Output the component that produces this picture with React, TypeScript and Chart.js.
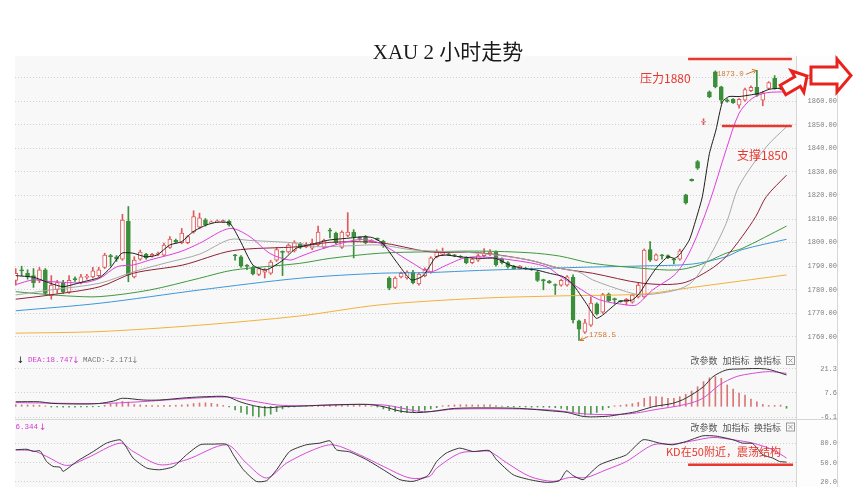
import React, { useEffect, useRef } from "react";
import { Chart, registerables } from "chart.js";
Chart.register(...registerables);

// ---------- data ----------
const opens = [1784,1788.3,1787,1786,1784,1788.5,1777.5,1780,1783,1779,1784.8,1783,1785.2,1785.5,1786,1789.5,1794.5,1794,1793,1809,1785.5,1793,1795,1794.3,1795,1794.7,1798,1801,1800,1800,1804.5,1806.5,1809.7,1808.3,1808.8,1808.8,1809,1794.8,1794,1790.5,1789.5,1786.5,1787.5,1787,1792.6,1796.3,1796,1796.5,1799.5,1798.2,1797.6,1799,1798,1805.3,1804,1798,1803,1804.5,1802.2,1802.5,1800.5,1801.8,1800.5,1785,1781,1785.5,1785,1787.5,1782.5,1786,1787.5,1794,1795,1795.2,1794.8,1794.2,1793.5,1791.5,1792.5,1794.5,1795,1796,1793,1791.5,1790,1789,1789.2,1788.9,1787.5,1784.3,1783.7,1782.2,1782,1782,1785.3,1766.8,1762,1765,1774,1770.5,1778.2,1776.3,1775.3,1775,1774.8,1777,1777,1797,1792.6,1794.8,1794.5,1793,1793,1820.2,1826.8,1834.3,1851,1863.9,1872.4,1866,1860.5,1860.7,1858.3,1860.4,1864.4,1865.8,1860.4,1865.4,1869.6,1865.6,1865.3];
const highs = [1789,1790,1788.5,1789,1789.5,1789,1786,1784,1784,1786,1785.5,1786.5,1786.5,1789.5,1789.5,1795.5,1795,1794.5,1812,1815.3,1794,1796.8,1795.5,1795.5,1796,1799.8,1802.5,1801.5,1806,1803,1813.5,1812.5,1810.2,1809.2,1809.6,1809.6,1809.5,1795,1794.5,1790.7,1790,1789.5,1789,1792.5,1798,1796.5,1799.5,1800.8,1800,1800,1801.5,1807,1801.5,1806,1804.5,1805,1812.7,1805.5,1802.5,1803,1801.3,1802,1801,1785.5,1785.5,1787.5,1788,1788.2,1787.3,1789.3,1794,1797,1797.7,1795.5,1795,1794.5,1794,1793.5,1795,1797.5,1797,1796.5,1793.5,1792,1790.3,1790.3,1789.5,1789.2,1788,1784.5,1784,1782.5,1784.5,1786,1786.3,1767.2,1767.5,1777,1774.5,1778.5,1778.6,1776.5,1775.5,1776.3,1778,1783,1797.3,1800.4,1795.2,1795,1794.8,1793.2,1797.2,1820.5,1827,1834.8,1852.5,1864.3,1872.8,1866.3,1861,1861,1861,1865.5,1866.5,1873,1864,1868.2,1870.8,1866,1865.8];
const lows = [1782,1786,1784.5,1781,1783,1778,1776,1778.5,1778.5,1778.5,1783.5,1782.5,1784.5,1785,1785.5,1789,1790,1792,1792.5,1783.4,1785,1792.5,1793,1793.8,1794.5,1794.3,1797.5,1799.8,1799.5,1799.5,1804,1806,1807,1808,1808.5,1808.5,1807,1792.5,1789.5,1788.5,1786.3,1786,1785,1786.5,1792,1786,1795.5,1796,1797.5,1797.8,1797,1798.5,1797.5,1802,1799.5,1797.5,1802.5,1793.5,1801,1799.5,1800.2,1801,1798,1780,1780.5,1785,1784.5,1782.5,1782,1785.5,1787,1793.5,1794.5,1794.5,1794,1793.5,1791,1791,1792,1794,1794.5,1790,1791,1789.2,1788.7,1788.7,1788.5,1788.2,1783.5,1780,1782.7,1778,1781.5,1781.5,1766,1758.5,1761.5,1764.5,1769.3,1770,1775,1774,1774.7,1773.5,1774.3,1776.5,1776.5,1792,1792.3,1793,1793.2,1791,1792.5,1816.3,1826,1831,1850,1861.4,1865.6,1859,1859.5,1859,1857,1860,1864,1862,1858,1865,1865,1864.8,1864.6];
const closes = [1787,1788,1785.5,1783,1788.5,1778.5,1782,1783,1779,1784,1784.3,1785.5,1785.8,1788,1788.5,1794.7,1794,1793,1809.5,1786.3,1792.6,1796,1793.5,1795,1795.5,1799,1801.5,1800.3,1804,1802.5,1811,1810.5,1807.5,1808.8,1809.2,1809.3,1807.5,1794.3,1790,1789.9,1786.7,1789,1788.5,1791.7,1797,1795.8,1799,1800,1798,1799.2,1799.7,1804.5,1801,1804.8,1800,1804.5,1804.5,1802.5,1801.8,1800,1801,1801.3,1798.7,1780.7,1785,1787,1787.5,1783,1786.7,1788.7,1793.5,1796,1796,1794.8,1794.3,1793.8,1791.5,1793,1794.5,1795.5,1796,1790.5,1791.5,1789.7,1789,1790,1788.8,1788.5,1784,1783.8,1783,1781.8,1784,1785.5,1767.2,1763.3,1766,1774.4,1769.8,1778,1775.4,1775.8,1775,1776,1777.7,1782,1796.8,1792.6,1794.8,1794.3,1793.5,1792.5,1796.5,1816.8,1826.2,1831.5,1851.4,1861.8,1866.1,1860.4,1859.8,1859.3,1860.7,1864.9,1865.8,1862.5,1863.5,1867.8,1865.4,1865.2,1865.0];

const priceTicks = [1760,1770,1780,1790,1800,1810,1820,1830,1840,1850,1860,1870];
const macdTicks = [21.3, 7.6, -6.1];
const kdTicks = [80, 50, 20];

// moving averages: [candle index, price]
const ma5 = [[0,1786],[3,1785.3],[5.8,1782.8],[8,1781.3],[11.4,1783.4],[14.2,1785.3],[15.9,1789.1],[17.9,1795.5],[19.8,1795.5],[21.9,1794],[23.8,1794.7],[26,1799],[28,1800.4],[29.9,1804.6],[32.2,1807.5],[33.9,1808.6],[36.1,1808.2],[37.8,1801.1],[40,1790.5],[42.2,1788.4],[45.1,1792.6],[47.3,1797.6],[50.1,1799.4],[52.9,1801.1],[55.8,1801.8],[58.6,1802.5],[60.2,1802.1],[61.9,1799.7],[64.2,1791.9],[66.7,1784.2],[68.7,1785.9],[70.9,1794],[72.6,1794.7],[74.8,1794],[78.2,1793.3],[81,1793.3],[83.3,1790.5],[85.5,1789.1],[87.8,1788.4],[90,1787],[92.3,1785.6],[93.9,1782.5],[96.2,1774.3],[97.9,1767.9],[99,1769.3],[101.8,1775],[104,1775.7],[105.2,1778.5],[106.3,1782.8],[108,1789.1],[110,1794],[111.1,1793.3],[111.9,1794.7],[113.6,1801.1],[114.7,1809.6],[115.8,1819.4],[117,1837.8],[118.1,1847.7],[119.2,1859.7],[120.3,1861.9],[122,1861.9],[123.7,1862.5],[125.4,1863.3],[127.1,1865],[128.8,1865.4],[130,1865]];
const ma10 = [[0,1782.2],[3,1784.2],[5.8,1783.5],[11.3,1783],[14.2,1784.9],[17.1,1789.8],[19.8,1790.5],[22.6,1792.6],[27.7,1796.1],[31,1799.7],[36.1,1806],[39.5,1802.5],[42.8,1795.5],[46.2,1792.6],[47.9,1794],[50.1,1796.1],[55.8,1800.3],[58.5,1801.3],[61.4,1799.7],[67,1791.2],[69.8,1787.6],[72.7,1790.5],[75.4,1793.3],[78.2,1794],[83.8,1792.6],[89.5,1789.8],[91.7,1786],[94.5,1781.5],[98.4,1775.8],[103,1773.6],[104.7,1773.6],[107.4,1779.9],[111.4,1787],[114.1,1798.3],[117,1817],[119.8,1839.2],[122,1854.8],[124.2,1861.1],[126.6,1863.5],[130,1863.9]];
const ma20 = [[0,1777.8],[5.8,1779.9],[14.2,1782.8],[19.8,1787.6],[25.5,1791.5],[31,1795.1],[36.1,1801.3],[39.5,1800.9],[47.9,1799.7],[50.1,1798.3],[55.8,1798.6],[61.4,1799],[67,1796.9],[78.2,1795.5],[86.6,1792.6],[91.7,1789.1],[95,1787.5],[97.3,1784.2],[103,1779.2],[105.7,1777.8],[111.4,1779.9],[114.1,1783.4],[117,1794],[119.8,1808],[122,1824],[126.6,1840.6],[130,1849.1]];
const ma30 = [[0,1776],[5.8,1777.8],[14.2,1781.3],[19.8,1787],[28.2,1790.5],[36.6,1796.6],[47.9,1798.3],[53,1800.1],[61.4,1800],[69.8,1796.1],[78.2,1795.7],[86.6,1792.6],[91.7,1789.1],[97.3,1787],[105.7,1782.8],[112.4,1782.8],[117,1788.4],[119.8,1794],[122.5,1802.5],[124.8,1811],[126.6,1819.5],[130,1828.6]];
const ma60 = [[0,1779.2],[3,1778.5],[8.6,1777.4],[14.2,1777.1],[22.6,1779.9],[31,1784.9],[36.6,1788.3],[47.9,1791.2],[53,1793.3],[61.4,1795.5],[69.8,1796.1],[78.2,1796.4],[86.6,1795.7],[91.7,1794.3],[97.3,1791.2],[105.7,1789.1],[111.4,1788.4],[115.3,1790.5],[119.8,1795.5],[122.5,1797.5],[130,1807]];
const ma120 = [[0,1771.1],[14.2,1774.3],[31,1779.9],[47.9,1784.9],[61.4,1787],[69.8,1787.3],[78.2,1788.2],[95,1789.5],[105.7,1790.1],[114.1,1790.9],[119.8,1794],[122.5,1797],[130,1801.4]];
const ma250 = [[0,1761.6],[14.2,1762.3],[31,1765],[47.9,1768.9],[61.4,1773.6],[78.2,1776.4],[91.7,1777.4],[105.7,1778.2],[114.1,1781],[130,1786.3]];

const macdHist = [1.0,0.8,0.8,0.7,0.6,0.2,-0.4,-0.4,-0.5,-0.5,-0.5,-0.4,-0.4,-0.3,-0.2,0.6,1.2,1.8,2.8,2.4,1.0,0.8,0.5,0.4,0.4,0.5,0.6,0.6,0.8,1.0,1.6,1.9,2.0,1.7,1.2,0.5,-0.3,-2.0,-3.5,-4.5,-5.5,-6.0,-5.5,-4.5,-3.0,-1.5,-0.5,-0.3,0.3,0.3,0.4,0.5,0.6,0.7,0.8,0.9,1.0,0.9,0.8,0.6,0.2,-0.4,-1.5,-2.5,-3.0,-3.5,-3.5,-3.2,-2.8,-2.2,-1.5,-0.8,0.3,0.6,0.8,0.9,0.9,0.8,0.8,0.9,0.8,0.4,0.2,-0.2,-0.4,-0.3,-0.4,-0.5,-0.4,-0.5,-0.6,-0.8,-1.2,-2.0,-3.5,-4.5,-5.0,-4.5,-3.5,-2.0,-0.8,0.3,0.6,1.0,1.5,2.3,4.6,5.5,5.5,5.2,4.6,4.6,5.5,6.9,8.7,11.2,14.1,16.3,16.9,16.0,12.2,9.9,7.5,6.4,4.2,2.6,1.1,0.5,0.5,0.7,-1.1];
const difLine = [[0,2.6],[4,2.6],[6,1.7],[11,1.3],[14,1.6],[16.5,3.0],[18,4.6],[21.5,3.6],[24.3,3.6],[28.8,4.9],[32.2,5.5],[35.6,5.5],[37.8,2.6],[40.1,0.4],[42.3,-0.8],[45.1,-0.2],[48,0.1],[53.5,0.8],[59.2,1.1],[62,-0.2],[64.8,-2.7],[67.6,-3.6],[70,-3.0],[74,-1.2],[80,-0.9],[85,-1.2],[90.6,-2.7],[93,-3.5],[96,-5.9],[100,-5.6],[102,-4.6],[104.7,-3.0],[107.5,-0.2],[110.8,1.7],[113,4.6],[116,11.2],[117.6,16.9],[119.8,20.7],[122,21.3],[126.6,21.3],[130,17.9]];
const deaLine = [[0,2.1],[14,1.6],[21,2.6],[28,4.2],[35.6,5.3],[40,3.0],[44,0.8],[48,0.3],[53.5,0.8],[62,0.8],[67.6,-2.7],[70,-3.0],[74,-1.6],[85,-1.5],[90.6,-2.2],[96.2,-4.4],[102,-4.6],[104.7,-3.8],[107.5,-2.1],[113,1.1],[115.9,4.6],[118.7,12.2],[121.5,16.9],[124.3,18.8],[127.1,19.8],[130,18.8]];
const kLine = [[0,70.2],[1.9,71],[3,67.6],[4.1,68.5],[5.2,52],[6.3,44.3],[7.5,43],[8,36.5],[10.3,52],[13.1,67.6],[15.3,80.6],[17.6,85.8],[18.4,78],[19.8,57.3],[22.1,41.7],[24.3,39.1],[26.6,44],[28.8,62.4],[31.1,78],[33.3,79],[35.6,78.5],[36.7,62.4],[38.4,39.1],[40.6,20.9],[42.3,22],[44,39.1],[46.2,67.6],[49,78],[51.3,80.6],[53,84.2],[54.1,70.2],[56.3,67],[59.2,54.7],[62,39.1],[64.8,23.6],[67,21],[69.5,30],[71,52],[72.6,65],[74.9,72.8],[77.1,67.6],[79.9,69],[81.1,54.7],[83.9,31.3],[86.7,23.6],[89.5,19.4],[91.7,22],[92.9,37.5],[94,30],[95.7,23.6],[96.8,33],[98.5,46.9],[100.7,54.7],[103,62.4],[105.8,85.8],[108.6,80.6],[110.8,78],[113.1,83.2],[115.9,92],[118.1,91.5],[121,85.8],[122.6,80.5],[124.3,79.8],[126,62.4],[127.7,57.3],[128.8,52],[130,51]];
const dLine = [[0,70],[3,68.5],[5.2,59.9],[8.6,45.8],[12,57.3],[17.6,80.6],[19.8,67.6],[24.3,46.9],[28.8,54.7],[35.6,78],[38.9,49.5],[42.3,26.2],[45.7,49.5],[50.2,70.2],[53.5,78],[58,62.4],[62,44.3],[66.5,26.2],[69.8,28.7],[71,41.7],[74.9,65],[78,67.6],[79.9,67.6],[82.8,50],[86.7,28.7],[90.6,21],[93.4,27],[96.2,27],[99.6,39.1],[103,52],[107.5,78],[110.8,79],[114.2,84.2],[117.6,89.4],[121,85.8],[124.3,80.6],[127.7,70.2],[130,57.3]];

// ---------- layout / style ----------
const PLOT_L = 15, PLOT_R = 796, AXIS_R = 837;
const MAIN_T = 56, MAIN_B = 353, MACD_B = 419, KD_B = 487;
const X_MIN = -0.12, X_MAX = 131.6;
const PLOT_BG = "#f8f8f8", AXIS_BG = "#fdfdfd", SEP = "#d6d6d6";
const UP = "#de5b5b", DOWN = "#3b8f3b", HOLLOW = "#fdfdfd";
const ANN_RED = "#e8372e";
const TICK_FONT = { family: "Liberation Mono", size: 7 };

const pts = (a: number[][]) => a.map(([x, y]) => ({ x, y }));
const isUp = (i: number) => closes[i] >= opens[i];

function xAxis() {
  return { type: "linear", min: X_MIN, max: X_MAX, offset: false, display: false };
}
function yAxis(min: number, max: number, ticks: number[], digits: number, pad: number) {
  return {
    position: "right",
    min,
    max,
    afterFit: (s: any) => { s.width = 41; s.paddingTop = 0; s.paddingBottom = 0; },
    afterBuildTicks: (s: any) => { s.ticks = ticks.map((v) => ({ value: v })); },
    grid: { color: "#d0d0d0", lineWidth: 1, drawTicks: false },
    border: { display: false, dash: [1, 2] },
    ticks: {
      padding: pad,
      crossAlign: "far",
      color: "#808080",
      font: TICK_FONT,
      callback: (v: any) => Number(v).toFixed(digits),
    },
  };
}
function line(data: number[][], color: string, order: number, tension = 0.3) {
  return {
    type: "line",
    data: pts(data),
    borderColor: color,
    borderWidth: 1,
    pointRadius: 0,
    tension,
    order,
  };
}
function panelPlugin(top: number, bottom: number, extra?: (chart: any) => void) {
  return {
    id: "panel" + top,
    beforeDraw(chart: any) {
      const ctx = chart.ctx;
      ctx.save();
      ctx.fillStyle = PLOT_BG;
      ctx.fillRect(PLOT_L, top, PLOT_R - PLOT_L, bottom - top);
      ctx.fillStyle = AXIS_BG;
      ctx.fillRect(PLOT_R, top, AXIS_R - PLOT_R, bottom - top);
      ctx.strokeStyle = SEP;
      ctx.lineWidth = 1;
      ctx.beginPath();
      ctx.moveTo(PLOT_R + 0.5, top);
      ctx.lineTo(PLOT_R + 0.5, bottom);
      ctx.moveTo(AXIS_R + 0.5, top);
      ctx.lineTo(AXIS_R + 0.5, bottom);
      if (bottom < KD_B) {
        ctx.moveTo(PLOT_L, bottom + 0.5);
        ctx.lineTo(AXIS_R, bottom + 0.5);
      }
      ctx.stroke();
      ctx.restore();
    },
    afterDraw(chart: any) {
      if (extra) {
        chart.ctx.save();
        extra(chart);
        chart.ctx.restore();
      }
    },
  };
}
function text(ctx: any, s: string, x: number, y: number, font: string, color: string, align = "left") {
  ctx.font = font;
  ctx.fillStyle = color;
  ctx.textAlign = align;
  ctx.textBaseline = "middle";
  ctx.fillText(s, x, y);
}
function hline(ctx: any, x0: number, x1: number, y: number, color: string, w: number) {
  ctx.strokeStyle = color;
  ctx.lineWidth = w;
  ctx.beginPath();
  ctx.moveTo(x0, y);
  ctx.lineTo(x1, y);
  ctx.stroke();
}
function blockArrow(ctx: any, x0: number, y0: number, x1: number, y1: number, shaftW: number, headW: number, headL: number) {
  const dx = x1 - x0, dy = y1 - y0;
  const len = Math.hypot(dx, dy);
  const ux = dx / len, uy = dy / len;
  const nx = -uy, ny = ux;
  const bx = x1 - ux * headL, by = y1 - uy * headL;
  const p = [
    [x0 + (nx * shaftW) / 2, y0 + (ny * shaftW) / 2],
    [bx + (nx * shaftW) / 2, by + (ny * shaftW) / 2],
    [bx + (nx * headW) / 2, by + (ny * headW) / 2],
    [x1, y1],
    [bx - (nx * headW) / 2, by - (ny * headW) / 2],
    [bx - (nx * shaftW) / 2, by - (ny * shaftW) / 2],
    [x0 - (nx * shaftW) / 2, y0 - (ny * shaftW) / 2],
  ];
  ctx.beginPath();
  p.forEach(([x, y], i) => (i ? ctx.lineTo(x, y) : ctx.moveTo(x, y)));
  ctx.closePath();
  ctx.fillStyle = "#ffffff";
  ctx.fill();
  ctx.lineJoin = "miter";
  ctx.strokeStyle = "#e8231d";
  ctx.lineWidth = 3;
  ctx.stroke();
}
function toolLinks(ctx: any, y: number) {
  const f = '9px "Noto Sans CJK SC"';
  text(ctx, "改参数", 690.5, y, f, "#555");
  text(ctx, "加指标", 722.5, y, f, "#555");
  text(ctx, "换指标", 754, y, f, "#555");
  ctx.strokeStyle = "#999";
  ctx.lineWidth = 1;
  ctx.strokeRect(786.5, y - 4.5, 8, 8);
  ctx.beginPath();
  ctx.moveTo(788.5, y - 2.5);
  ctx.lineTo(792.5, y + 1.5);
  ctx.moveTo(792.5, y - 2.5);
  ctx.lineTo(788.5, y + 1.5);
  ctx.stroke();
}

const baseOptions = (top: number, bottom: number) => ({
  animation: false,
  responsive: false,
  maintainAspectRatio: false,
  events: [],
  layout: { padding: { left: PLOT_L, right: 854 - AXIS_R, top, bottom: 487 - bottom } },
  plugins: { legend: { display: false }, tooltip: { enabled: false }, title: { display: false } },
});

function mainConfig(): any {
  const wicks = opens.map((_, i) => ({ x: i, y: [lows[i], highs[i]] }));
  const bodies = opens.map((o, i) => ({ x: i, y: [o, closes[i]] }));
  const annotate = (chart: any) => {
    const { ctx, scales } = chart;
    const xs = scales.x, ys = scales.y;
    hline(ctx, xs.getPixelForValue(113.4), xs.getPixelForValue(130.9), ys.getPixelForValue(1877.8), ANN_RED, 2.5);
    hline(ctx, xs.getPixelForValue(119.1), xs.getPixelForValue(130.9), ys.getPixelForValue(1849.4), ANN_RED, 2.5);
    const cf = '12px "Noto Sans CJK SC"';
    text(ctx, "压力1880", 640, 78, cf, ANN_RED);
    text(ctx, "支撑1850", 737, 155, cf, ANN_RED);
    const orange = "#d2772e";
    const hx = xs.getPixelForValue(125), hy = ys.getPixelForValue(1873);
    ctx.strokeStyle = orange;
    ctx.lineWidth = 1;
    ctx.beginPath();
    ctx.moveTo(hx - 11, hy + 4);
    ctx.lineTo(hx - 1, hy);
    ctx.moveTo(hx - 1, hy);
    ctx.lineTo(hx - 5, hy - 1);
    ctx.moveTo(hx - 1, hy);
    ctx.lineTo(hx - 3, hy + 3);
    ctx.stroke();
    text(ctx, "1873.0", hx - 13, hy + 4, '7.5px "Liberation Mono"', orange, "right");
    const lx = xs.getPixelForValue(95), ly = ys.getPixelForValue(1758.5);
    ctx.beginPath();
    ctx.moveTo(lx + 1, ly);
    ctx.lineTo(lx + 9, ly - 4);
    ctx.moveTo(lx + 1, ly);
    ctx.lineTo(lx + 5, ly);
    ctx.moveTo(lx + 1, ly);
    ctx.lineTo(lx + 3, ly - 3);
    ctx.stroke();
    text(ctx, "1758.5", lx + 10, ly - 5, '7.5px "Liberation Mono"', orange);
    blockArrow(ctx, 783, 90, 807, 76, 11, 25, 11);
    blockArrow(ctx, 811, 75.5, 851, 75.5, 17, 33, 14);
  };
  return {
    type: "bar",
    data: {
      datasets: [
        line(ma5, "#1e1e1e", 0, 0.2),
        line(ma10, "#dd3fdd", 1),
        line(ma20, "#a8a8a8", 2),
        line(ma30, "#8e2236", 3),
        line(ma60, "#3f9a3f", 4),
        line(ma120, "#3d98d8", 5),
        line(ma250, "#f2b23a", 6),
        {
          type: "bar",
          data: bodies,
          barThickness: 4,
          minBarLength: 1,
          grouped: false,
          borderSkipped: false,
          borderWidth: 1,
          backgroundColor: (c: any) => (isUp(c.dataIndex) ? HOLLOW : DOWN),
          borderColor: (c: any) => (isUp(c.dataIndex) ? UP : DOWN),
          order: 7,
        },
        {
          type: "bar",
          data: wicks,
          barThickness: 1,
          grouped: false,
          borderWidth: 0,
          backgroundColor: (c: any) => (isUp(c.dataIndex) ? UP : DOWN),
          order: 8,
        },
      ],
    },
    options: {
      ...baseOptions(MAIN_T, MAIN_B),
      scales: { x: xAxis(), y: yAxis(1753.2, 1879.1, priceTicks, 2, 5) },
    },
    plugins: [panelPlugin(MAIN_T, MAIN_B, annotate)],
  };
}

function macdConfig(): any {
  const annotate = (chart: any) => {
    const ctx = chart.ctx;
    const mf = '7.5px "Liberation Mono"';
    const af = '9px "DejaVu Sans"';
    const y = 360.5;
    text(ctx, "↓", 20.5, y, af, "#222", "center");
    text(ctx, "DEA:18.747", 28, y, mf, "#d43bd4");
    text(ctx, "↓", 76, y, af, "#d43bd4", "center");
    text(ctx, "MACD:-2.171", 83, y, mf, "#777");
    text(ctx, "↓", 135, y, af, "#888", "center");
    toolLinks(ctx, 361);
  };
  return {
    type: "bar",
    data: {
      datasets: [
        line(difLine, "#333333", 0),
        line(deaLine, "#d84bd8", 1),
        {
          type: "bar",
          data: macdHist.map((v, i) => ({ x: i, y: v })),
          barThickness: 1,
          grouped: false,
          borderWidth: 0,
          backgroundColor: (c: any) => (macdHist[c.dataIndex] >= 0 ? "#d97777" : "#4c9a4c"),
          order: 3,
        },
      ],
    },
    options: {
      ...baseOptions(MAIN_B, MACD_B),
      scales: { x: xAxis(), y: yAxis(-7.24, 30.43, macdTicks, 1, 17) },
    },
    plugins: [panelPlugin(MAIN_B, MACD_B, annotate)],
  };
}

function kdConfig(): any {
  const annotate = (chart: any) => {
    const ctx = chart.ctx;
    const xs = chart.scales.x, ys = chart.scales.y;
    text(ctx, "6.344", 15.5, 427.5, '7.5px "Liberation Mono"', "#d43bd4");
    text(ctx, "↓", 42.7, 427.5, '9px "DejaVu Sans"', "#d43bd4", "center");
    toolLinks(ctx, 427.5);
    hline(ctx, xs.getPixelForValue(113.4), xs.getPixelForValue(131.1), ys.getPixelForValue(47), ANN_RED, 2.5);
    text(ctx, "KD在50附近，震荡结构", 666, 452, '11px "Noto Sans CJK SC"', ANN_RED);
  };
  return {
    type: "line",
    data: {
      datasets: [line(kLine, "#333333", 0, 0.2), line(dLine, "#d84bd8", 1)],
    },
    options: {
      ...baseOptions(MACD_B, KD_B),
      scales: { x: xAxis(), y: yAxis(12.2, 118.2, kdTicks, 1, 17) },
    },
    plugins: [panelPlugin(MACD_B, KD_B, annotate)],
  };
}

const canvasStyle: React.CSSProperties = { position: "absolute", left: 0, top: 0, width: 854, height: 487 };

export default function App() {
  const mainRef = useRef<HTMLCanvasElement>(null);
  const macdRef = useRef<HTMLCanvasElement>(null);
  const kdRef = useRef<HTMLCanvasElement>(null);
  useEffect(() => {
    const charts = [
      new Chart(mainRef.current as HTMLCanvasElement, mainConfig()),
      new Chart(kdRef.current as HTMLCanvasElement, kdConfig()),
      new Chart(macdRef.current as HTMLCanvasElement, macdConfig()),
    ];
    return () => charts.forEach((c) => c.destroy());
  }, []);
  return (
    <div style={{ position: "fixed", left: 0, top: 0, width: 854, height: 487, background: "#fff", overflow: "hidden" }}>
      <canvas ref={mainRef} width={854} height={487} style={canvasStyle} />
      <canvas ref={kdRef} width={854} height={487} style={canvasStyle} />
      <canvas ref={macdRef} width={854} height={487} style={canvasStyle} />
      <div
        style={{
          position: "absolute",
          left: 248,
          top: 40,
          width: 400,
          textAlign: "center",
          fontSize: 21,
          lineHeight: "24px",
          fontFamily: '"Liberation Serif", "Noto Sans CJK SC", serif',
          color: "#1a1a1a",
          zIndex: 5,
          whiteSpace: "pre",
        }}
      >
        XAU 2 小时走势
      </div>
    </div>
  );
}
